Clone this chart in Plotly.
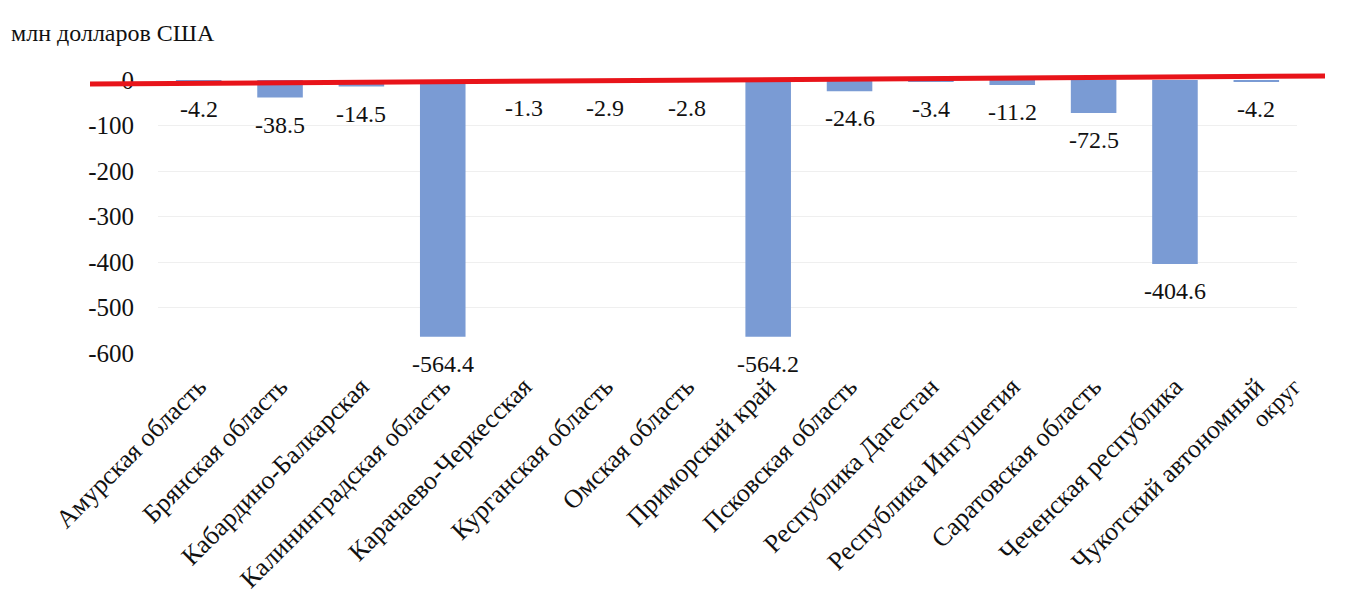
import plotly.graph_objects as go

categories = [
    "Амурская область", "Брянская область", "Кабардино-Балкарская",
    "Калининградская область", "Карачаево-Черкесская", "Курганская область",
    "Омская область", "Приморский край", "Псковская область",
    "Республика Дагестан", "Республика Ингушетия", "Саратовская область",
    "Чеченская республика", "Чукотский автономный",
]
last_label_tail = "округ"
values = [-4.2, -38.5, -14.5, -564.4, -1.3, -2.9, -2.8, -564.2, -24.6, -3.4, -11.2, -72.5, -404.6, -4.2]
ytick_vals = [0, -100, -200, -300, -400, -500, -600]
ytick_text = ["0", "-100", "-200", "-300", "-400", "-500", "-600"]
labels = [f"{v:.1f}" for v in values]

FONT = "Liberation Serif, Times New Roman, serif"
TXT = "#111111"

fig = go.Figure()
fig.add_trace(go.Bar(
    x=categories, y=values,
    marker=dict(color="#7a9bd4", line=dict(width=0)),
    cliponaxis=False,
))

for c, v, t in zip(categories, values, labels):
    fig.add_annotation(x=c, y=v, xref="x", yref="y", text=t, showarrow=False,
                       yanchor="middle", yshift=-27,
                       font=dict(family=FONT, size=24, color=TXT))

# second line of the last category label
fig.add_annotation(x=categories[-1], y=0, xref="x", yref="paper", text=last_label_tail,
                   showarrow=False, textangle=-45, xanchor="center", yanchor="middle",
                   xshift=20, yshift=-50,
                   font=dict(family=FONT, size=24, color=TXT))

fig.add_shape(type="line", xref="paper", yref="paper",
              x0=-0.0597, x1=1.0246, y0=0.9853, y1=1.0147,
              line=dict(color="#e8141a", width=5))

fig.add_annotation(text="млн долларов США", xref="paper", yref="paper",
                   x=-0.1310, y=1.0, yanchor="middle", xanchor="left", yshift=47,
                   showarrow=False, font=dict(family=FONT, size=24, color=TXT))

fig.update_layout(
    width=1363, height=591,
    margin=dict(l=150, r=74, t=72, b=246, autoexpand=False),
    plot_bgcolor="white", paper_bgcolor="white",
    bargap=0.44,
    showlegend=False,
    font=dict(family=FONT, size=24, color=TXT),
)
fig.update_xaxes(tickangle=-45, showgrid=False, showline=False,
                 range=[-0.5, len(categories) - 0.5],
                 ticks="outside", ticklen=7, tickcolor="rgba(0,0,0,0)",
                 automargin=False,
                 tickfont=dict(family=FONT, size=26, color=TXT))
fig.update_yaxes(range=[-600, 0], tickvals=ytick_vals, ticktext=ytick_text,
                 showgrid=True, gridcolor="#efefef", gridwidth=1, zeroline=False,
                 automargin=False,
                 tickfont=dict(family=FONT, size=25, color=TXT), ticklabelstandoff=23)

fig.write_html("out.html")
